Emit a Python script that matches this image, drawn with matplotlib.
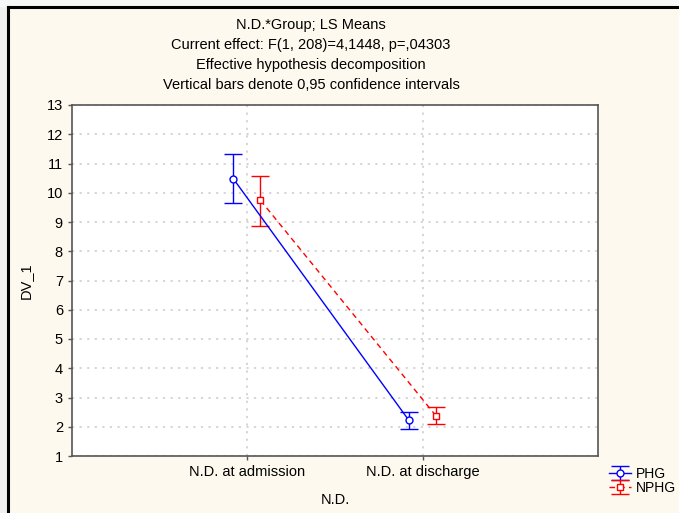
import matplotlib.pyplot as plt
from matplotlib.lines import Line2D
from matplotlib.patches import Rectangle

# data
categorias = ["N.D. at admission", "N.D. at discharge"]
phg_media = [10.48, 2.23]
phg_sup = [11.32, 2.50]
phg_inf = [9.64, 1.93]
nphg_media = [9.74, 2.38]
nphg_sup = [10.57, 2.68]
nphg_inf = [8.88, 2.10]

titulo = ["N.D.*Group; LS Means",
          "Current effect: F(1, 208)=4,1448, p=,04303",
          "Effective hypothesis decomposition",
          "Vertical bars denote 0,95 confidence intervals"]

plt.rcParams["font.family"] = ["Liberation Sans", "DejaVu Sans"]

fondo = "#fef9ee"
fig = plt.figure(figsize=(6.79, 5.13), dpi=100, facecolor=fondo)
ax = fig.add_axes([72/679, 1 - 456/513, 526/679, 351/513])
ax.set_facecolor("white")

# bordes de la ventana
fig.add_artist(Rectangle((0, 0), 7/679, 1, transform=fig.transFigure, color="#f0f0f0", zorder=-1))
fig.add_artist(Rectangle((0, 1 - 6/513), 1, 6/513, transform=fig.transFigure, color="#f7f7f7", zorder=-1))
fig.add_artist(Line2D([8/679, 8/679], [0, 1 - 7/513], transform=fig.transFigure, color="black", lw=2.2))
fig.add_artist(Line2D([8/679, 1], [1 - 7/513, 1 - 7/513], transform=fig.transFigure, color="black", lw=2.2))

x = list(range(len(categorias)))
xp = [i - 0.08 for i in x]
xn = [i + 0.075 for i in x]

def barras(xs, media, sup, inf, color, marker, ls, etiqueta):
    err = [[m - b for m, b in zip(media, inf)], [a - m for m, a in zip(media, sup)]]
    ax.errorbar(xs, media, yerr=err, color=color, marker=marker, linestyle=ls, lw=1,
                markersize=5, markerfacecolor="white", markeredgecolor=color,
                capsize=6.5, capthick=1, elinewidth=1, label=etiqueta, zorder=3)

barras(xp, phg_media, phg_sup, phg_inf, "#0000ff", "o", "-", "PHG")
barras(xn, nphg_media, nphg_sup, nphg_inf, "#ff0000", "s", (0, (4, 3)), "NPHG")

ax.set_xlim(-1, 2)
ax.set_ylim(1, 13)
ax.set_yticks(range(1, 14))
ax.set_xticks(x)
ax.set_xticklabels(categorias)
ax.grid(True, color="#d2d2d2", linestyle=(0, (1.2, 3)), lw=1.3)
ax.set_axisbelow(True)
for s in ax.spines.values():
    s.set_color("#555555")
    s.set_linewidth(1.2)
ax.tick_params(labelsize=10.5, colors="black", length=3, width=1, color="#555555")

ax.set_xlabel("N.D.", fontsize=10.5, labelpad=10)
ax.set_ylabel("DV_1", fontsize=10.5, labelpad=10)

for i, t in enumerate(titulo):
    fig.text(311/679, 1 - (24.5 + i * 20.2)/513, t, ha="center", va="center", fontsize=10.5)

ax.legend(loc="upper left", bbox_to_anchor=(1.02, -0.03), frameon=False, fontsize=10,
          handlelength=1.6, handletextpad=0.4, labelspacing=0.05, borderpad=0, borderaxespad=0)

plt.savefig("out.png", dpi=100, facecolor=fondo)
